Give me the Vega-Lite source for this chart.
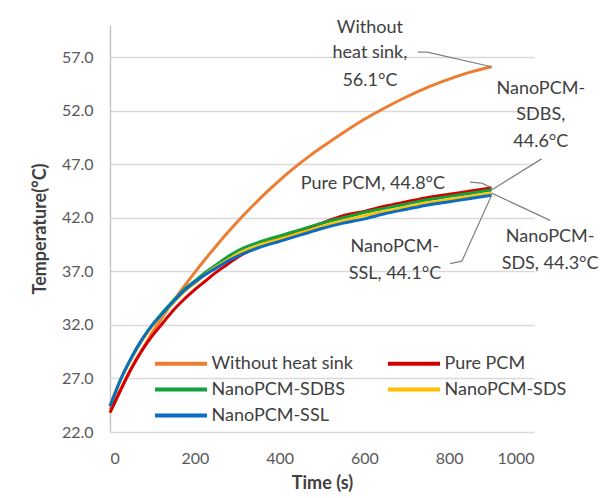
{
  "$schema": "https://vega.github.io/schema/vega-lite/v6.json",
  "width": 424,
  "height": 407,
  "autosize": {"type": "none"},
  "padding": {"left": 110, "top": 25, "right": 69, "bottom": 66},
  "background": "white",
  "config": {
    "view": {"stroke": null},
    "font": "Lato",
    "axis": {"labelFont": "Lato", "titleFont": "Lato"},
    "legend": {"labelFont": "Lato"}
  },
  "datasets": {
    "curves": [
      {"series": "Without heat sink", "t": 0, "T": 24.1},
      {"series": "Without heat sink", "t": 25, "T": 26.0},
      {"series": "Without heat sink", "t": 50, "T": 27.9},
      {"series": "Without heat sink", "t": 75, "T": 29.6},
      {"series": "Without heat sink", "t": 100, "T": 31.3},
      {"series": "Without heat sink", "t": 125, "T": 32.8},
      {"series": "Without heat sink", "t": 150, "T": 34.25},
      {"series": "Without heat sink", "t": 175, "T": 35.6},
      {"series": "Without heat sink", "t": 200, "T": 36.9},
      {"series": "Without heat sink", "t": 225, "T": 38.15},
      {"series": "Without heat sink", "t": 250, "T": 39.35},
      {"series": "Without heat sink", "t": 275, "T": 40.5},
      {"series": "Without heat sink", "t": 300, "T": 41.6},
      {"series": "Without heat sink", "t": 325, "T": 42.65},
      {"series": "Without heat sink", "t": 350, "T": 43.65},
      {"series": "Without heat sink", "t": 375, "T": 44.6},
      {"series": "Without heat sink", "t": 400, "T": 45.5},
      {"series": "Without heat sink", "t": 425, "T": 46.35},
      {"series": "Without heat sink", "t": 450, "T": 47.15},
      {"series": "Without heat sink", "t": 475, "T": 47.9},
      {"series": "Without heat sink", "t": 500, "T": 48.6},
      {"series": "Without heat sink", "t": 550, "T": 49.95},
      {"series": "Without heat sink", "t": 600, "T": 51.2},
      {"series": "Without heat sink", "t": 650, "T": 52.3},
      {"series": "Without heat sink", "t": 700, "T": 53.3},
      {"series": "Without heat sink", "t": 750, "T": 54.2},
      {"series": "Without heat sink", "t": 800, "T": 54.95},
      {"series": "Without heat sink", "t": 850, "T": 55.6},
      {"series": "Without heat sink", "t": 900, "T": 56.1},

      {"series": "Pure PCM", "t": 0, "T": 23.8},
      {"series": "Pure PCM", "t": 25, "T": 25.9},
      {"series": "Pure PCM", "t": 50, "T": 27.9},
      {"series": "Pure PCM", "t": 75, "T": 29.6},
      {"series": "Pure PCM", "t": 100, "T": 31.0},
      {"series": "Pure PCM", "t": 125, "T": 32.2},
      {"series": "Pure PCM", "t": 150, "T": 33.4},
      {"series": "Pure PCM", "t": 175, "T": 34.4},
      {"series": "Pure PCM", "t": 200, "T": 35.3},
      {"series": "Pure PCM", "t": 225, "T": 36.1},
      {"series": "Pure PCM", "t": 250, "T": 36.9},
      {"series": "Pure PCM", "t": 275, "T": 37.6},
      {"series": "Pure PCM", "t": 300, "T": 38.3},
      {"series": "Pure PCM", "t": 350, "T": 39.3},
      {"series": "Pure PCM", "t": 400, "T": 40.1},
      {"series": "Pure PCM", "t": 450, "T": 40.8},
      {"series": "Pure PCM", "t": 500, "T": 41.5},
      {"series": "Pure PCM", "t": 550, "T": 42.2},
      {"series": "Pure PCM", "t": 600, "T": 42.6},
      {"series": "Pure PCM", "t": 650, "T": 43.1},
      {"series": "Pure PCM", "t": 700, "T": 43.5},
      {"series": "Pure PCM", "t": 750, "T": 43.9},
      {"series": "Pure PCM", "t": 800, "T": 44.2},
      {"series": "Pure PCM", "t": 850, "T": 44.5},
      {"series": "Pure PCM", "t": 900, "T": 44.8},

      {"series": "NanoPCM-SDBS", "t": 0, "T": 24.4},
      {"series": "NanoPCM-SDBS", "t": 25, "T": 26.9},
      {"series": "NanoPCM-SDBS", "t": 50, "T": 28.9},
      {"series": "NanoPCM-SDBS", "t": 75, "T": 30.6},
      {"series": "NanoPCM-SDBS", "t": 100, "T": 32.0},
      {"series": "NanoPCM-SDBS", "t": 125, "T": 33.2},
      {"series": "NanoPCM-SDBS", "t": 150, "T": 34.3},
      {"series": "NanoPCM-SDBS", "t": 175, "T": 35.3},
      {"series": "NanoPCM-SDBS", "t": 200, "T": 36.1},
      {"series": "NanoPCM-SDBS", "t": 225, "T": 36.9},
      {"series": "NanoPCM-SDBS", "t": 250, "T": 37.6},
      {"series": "NanoPCM-SDBS", "t": 275, "T": 38.3},
      {"series": "NanoPCM-SDBS", "t": 300, "T": 38.9},
      {"series": "NanoPCM-SDBS", "t": 350, "T": 39.7},
      {"series": "NanoPCM-SDBS", "t": 400, "T": 40.3},
      {"series": "NanoPCM-SDBS", "t": 450, "T": 40.9},
      {"series": "NanoPCM-SDBS", "t": 500, "T": 41.5},
      {"series": "NanoPCM-SDBS", "t": 550, "T": 42.0},
      {"series": "NanoPCM-SDBS", "t": 600, "T": 42.5},
      {"series": "NanoPCM-SDBS", "t": 650, "T": 42.9},
      {"series": "NanoPCM-SDBS", "t": 700, "T": 43.3},
      {"series": "NanoPCM-SDBS", "t": 750, "T": 43.7},
      {"series": "NanoPCM-SDBS", "t": 800, "T": 44.0},
      {"series": "NanoPCM-SDBS", "t": 850, "T": 44.3},
      {"series": "NanoPCM-SDBS", "t": 900, "T": 44.6},

      {"series": "NanoPCM-SDS", "t": 0, "T": 24.5},
      {"series": "NanoPCM-SDS", "t": 25, "T": 26.9},
      {"series": "NanoPCM-SDS", "t": 50, "T": 28.8},
      {"series": "NanoPCM-SDS", "t": 75, "T": 30.5},
      {"series": "NanoPCM-SDS", "t": 100, "T": 31.9},
      {"series": "NanoPCM-SDS", "t": 125, "T": 33.0},
      {"series": "NanoPCM-SDS", "t": 150, "T": 34.1},
      {"series": "NanoPCM-SDS", "t": 175, "T": 35.1},
      {"series": "NanoPCM-SDS", "t": 200, "T": 35.9},
      {"series": "NanoPCM-SDS", "t": 225, "T": 36.7},
      {"series": "NanoPCM-SDS", "t": 250, "T": 37.4},
      {"series": "NanoPCM-SDS", "t": 275, "T": 38.0},
      {"series": "NanoPCM-SDS", "t": 300, "T": 38.6},
      {"series": "NanoPCM-SDS", "t": 350, "T": 39.4},
      {"series": "NanoPCM-SDS", "t": 400, "T": 40.0},
      {"series": "NanoPCM-SDS", "t": 450, "T": 40.6},
      {"series": "NanoPCM-SDS", "t": 500, "T": 41.2},
      {"series": "NanoPCM-SDS", "t": 550, "T": 41.7},
      {"series": "NanoPCM-SDS", "t": 600, "T": 42.2},
      {"series": "NanoPCM-SDS", "t": 650, "T": 42.6},
      {"series": "NanoPCM-SDS", "t": 700, "T": 43.0},
      {"series": "NanoPCM-SDS", "t": 750, "T": 43.4},
      {"series": "NanoPCM-SDS", "t": 800, "T": 43.7},
      {"series": "NanoPCM-SDS", "t": 850, "T": 44.0},
      {"series": "NanoPCM-SDS", "t": 900, "T": 44.3},

      {"series": "NanoPCM-SSL", "t": 0, "T": 24.4},
      {"series": "NanoPCM-SSL", "t": 25, "T": 26.9},
      {"series": "NanoPCM-SSL", "t": 50, "T": 28.9},
      {"series": "NanoPCM-SSL", "t": 75, "T": 30.6},
      {"series": "NanoPCM-SSL", "t": 100, "T": 32.0},
      {"series": "NanoPCM-SSL", "t": 125, "T": 33.1},
      {"series": "NanoPCM-SSL", "t": 150, "T": 34.2},
      {"series": "NanoPCM-SSL", "t": 175, "T": 35.2},
      {"series": "NanoPCM-SSL", "t": 200, "T": 36.0},
      {"series": "NanoPCM-SSL", "t": 225, "T": 36.7},
      {"series": "NanoPCM-SSL", "t": 250, "T": 37.3},
      {"series": "NanoPCM-SSL", "t": 275, "T": 37.9},
      {"series": "NanoPCM-SSL", "t": 300, "T": 38.4},
      {"series": "NanoPCM-SSL", "t": 350, "T": 39.2},
      {"series": "NanoPCM-SSL", "t": 400, "T": 39.8},
      {"series": "NanoPCM-SSL", "t": 450, "T": 40.4},
      {"series": "NanoPCM-SSL", "t": 500, "T": 41.0},
      {"series": "NanoPCM-SSL", "t": 550, "T": 41.5},
      {"series": "NanoPCM-SSL", "t": 600, "T": 41.9},
      {"series": "NanoPCM-SSL", "t": 650, "T": 42.4},
      {"series": "NanoPCM-SSL", "t": 700, "T": 42.8},
      {"series": "NanoPCM-SSL", "t": 750, "T": 43.2},
      {"series": "NanoPCM-SSL", "t": 800, "T": 43.5},
      {"series": "NanoPCM-SSL", "t": 850, "T": 43.8},
      {"series": "NanoPCM-SSL", "t": 900, "T": 44.1}
    ],
    "leaders": [
      {"x1": 726, "y1": 57.47, "x2": 748, "y2": 57.47},
      {"x1": 748, "y1": 57.47, "x2": 900, "y2": 56.1},
      {"x1": 1018, "y1": 47.5, "x2": 900, "y2": 44.6},
      {"x1": 849, "y1": 45.33, "x2": 877, "y2": 45.24},
      {"x1": 877, "y1": 45.24, "x2": 900, "y2": 44.8},
      {"x1": 900, "y1": 44.3, "x2": 1038, "y2": 41.76},
      {"x1": 802, "y1": 37.72, "x2": 830, "y2": 37.96},
      {"x1": 830, "y1": 37.96, "x2": 900, "y2": 44.1}
    ],
    "notes": [
      {"text": "Without", "t": 613, "T": 59.75},
      {"text": "heat sink,", "t": 613, "T": 57.43},
      {"text": "56.1°C", "t": 613, "T": 54.8},
      {"text": "NanoPCM-", "t": 1016, "T": 54.05},
      {"text": "SDBS,", "t": 1016, "T": 51.56},
      {"text": "44.6°C", "t": 1016, "T": 49.07},
      {"text": "Pure PCM, 44.8°C", "t": 620, "T": 45.18},
      {"text": "NanoPCM-", "t": 1038, "T": 40.2},
      {"text": "SDS, 44.3°C", "t": 1038, "T": 37.72},
      {"text": "NanoPCM-", "t": 672, "T": 39.31},
      {"text": "SSL, 44.1°C", "t": 672, "T": 36.78}
    ]
  },
  "layer": [
    {
      "data": {"name": "curves"},
      "mark": {"type": "line", "strokeWidth": 3, "interpolate": "monotone", "clip": false},
      "encoding": {
        "x": {
          "field": "t", "type": "quantitative",
          "scale": {"domain": [0, 1000], "nice": false},
          "axis": {
            "values": [0, 200, 400, 600, 800, 1000],
            "format": "d",
            "title": "Time (s)",
            "grid": false, "ticks": false, "domain": false,
            "labelFontSize": 16, "labelColor": "#595959", "labelPadding": 18,
            "titleFontSize": 18, "titleFontWeight": "bold", "titleColor": "#404040",
            "titlePadding": 8
          }
        },
        "y": {
          "field": "T", "type": "quantitative",
          "scale": {"domain": [22, 60], "nice": false, "zero": false},
          "axis": {
            "values": [22, 27, 32, 37, 42, 47, 52, 57],
            "format": ".1f",
            "title": "Temperature(°C)",
            "grid": true, "gridColor": "#d9d9d9", "gridWidth": 1.3,
            "ticks": false, "domain": true, "domainColor": "#bfbfbf", "domainWidth": 1.3,
            "labelFontSize": 16, "labelColor": "#595959", "labelPadding": 17,
            "titleFontSize": 18, "titleFontWeight": "bold", "titleColor": "#404040",
            "titlePadding": 12
          }
        },
        "color": {
          "field": "series", "type": "nominal",
          "scale": {
            "domain": ["Without heat sink", "Pure PCM", "NanoPCM-SDBS", "NanoPCM-SDS", "NanoPCM-SSL"],
            "range": ["#ED7D31", "#D40000", "#14A03C", "#FFC000", "#0A6CC4"]
          },
          "legend": {
            "orient": "none", "legendX": 45, "legendY": 326,
            "direction": "horizontal",
            "columns": 2, "columnPadding": 26, "rowPadding": 4,
            "title": null, "padding": 0,
            "symbolType": "M-2.5,0H2.5", "symbolSize": 433, "symbolStrokeWidth": 4,
            "symbolOffset": 13.5,
            "labelFontSize": 18, "labelColor": "#404040", "labelOffset": 18
          }
        },
        "order": {"field": "t", "type": "quantitative"}
      }
    },
    {
      "data": {"name": "leaders"},
      "mark": {"type": "rule", "color": "#808080", "strokeWidth": 1.2, "clip": false},
      "encoding": {
        "x": {"field": "x1", "type": "quantitative"},
        "y": {"field": "y1", "type": "quantitative"},
        "x2": {"field": "x2"},
        "y2": {"field": "y2"}
      }
    },
    {
      "data": {"name": "notes"},
      "mark": {"type": "text", "fontSize": 18, "color": "#404040", "baseline": "middle", "align": "center", "font": "Lato"},
      "encoding": {
        "x": {"field": "t", "type": "quantitative"},
        "y": {"field": "T", "type": "quantitative"},
        "text": {"field": "text", "type": "nominal"}
      }
    }
  ]
}
